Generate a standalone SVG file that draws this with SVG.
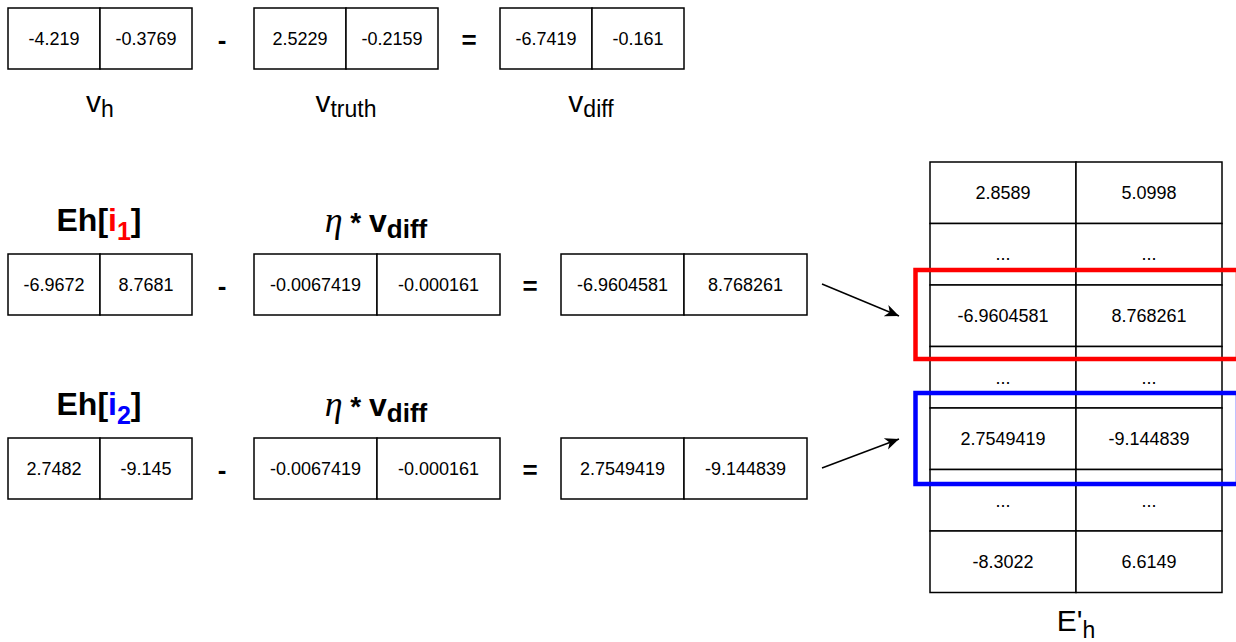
<svg xmlns="http://www.w3.org/2000/svg" width="1236" height="642" viewBox="0 0 1236 642">
  <style>
    .cell { fill: #ffffff; stroke: #000000; stroke-width: 1.5; }
    .num { font-family: "Liberation Sans", Arial, sans-serif; font-size: 18px; fill: #000000; text-anchor: middle; }
    .op { font-family: "Liberation Sans", Arial, sans-serif; font-size: 26px; font-weight: bold; fill: #000000; text-anchor: middle; }
    .lbl { font-family: "Liberation Sans", Arial, sans-serif; font-size: 30px; fill: #000000; text-anchor: middle; }
    .title { font-family: "Liberation Sans", Arial, sans-serif; font-size: 32px; font-weight: bold; fill: #000000; text-anchor: middle; }
    .eta { font-family: "Liberation Serif", "Times New Roman", serif; font-style: italic; font-weight: normal; font-size: 36px; }
    .sub { font-size: 23px; }
    .hl-red { fill: none; stroke: #ff0000; stroke-width: 4.5; }
    .hl-blue { fill: none; stroke: #0000ff; stroke-width: 4.5; }
    .conn { stroke: #000000; stroke-width: 1.5; fill: none; }
  </style>
  <defs>
    <marker id="arrow" markerUnits="userSpaceOnUse" markerWidth="16" markerHeight="14" refX="14" refY="7" orient="auto">
      <path d="M0,1 L14,7 L0,13 L4,7 Z" fill="#000000"/>
    </marker>
  </defs>

  <rect width="1236" height="642" fill="#ffffff"/>

  <!-- v_h -->
  <g id="v_h">
    <rect class="cell" x="8" y="8" width="92" height="61"/>
    <rect class="cell" x="100" y="8" width="92" height="61"/>
    <text class="num" x="54" y="45">-4.219</text>
    <text class="num" x="146" y="45">-0.3769</text>
    <text class="lbl" x="100" y="112">v<tspan class="sub" dy="5">h</tspan></text>
  </g>
  <text class="op" x="222" y="49">-</text>

  <!-- v_truth -->
  <g id="v_truth">
    <rect class="cell" x="254" y="8" width="92" height="61"/>
    <rect class="cell" x="346" y="8" width="92" height="61"/>
    <text class="num" x="300" y="45">2.5229</text>
    <text class="num" x="392" y="45">-0.2159</text>
    <text class="lbl" x="346" y="112">v<tspan class="sub" dy="5">truth</tspan></text>
  </g>
  <text class="op" x="469" y="49">=</text>

  <!-- v_diff -->
  <g id="v_diff">
    <rect class="cell" x="500" y="8" width="92" height="61"/>
    <rect class="cell" x="592" y="8" width="92" height="61"/>
    <text class="num" x="546" y="45">-6.7419</text>
    <text class="num" x="638" y="45">-0.161</text>
    <text class="lbl" x="591" y="112">v<tspan class="sub" dy="5">diff</tspan></text>
  </g>

  <!-- E_h[i1] update -->
  <g id="eh_i1">
    <text class="title" x="99" y="231">Eh[<tspan fill="#ff0000">i</tspan><tspan fill="#ff0000" font-size="25" dy="9">1</tspan><tspan dy="-9">]</tspan></text>
    <rect class="cell" x="8" y="254" width="92" height="61"/>
    <rect class="cell" x="100" y="254" width="92" height="61"/>
    <text class="num" x="54" y="291">-6.9672</text>
    <text class="num" x="146" y="291">8.7681</text>
  </g>
  <text class="op" x="222" y="295">-</text>
  <g id="step_i1">
    <text class="title" x="376" y="232"><tspan class="eta">η</tspan><tspan font-size="28"> * </tspan>v<tspan font-size="26" dy="6">diff</tspan></text>
    <rect class="cell" x="254" y="254" width="123" height="61"/>
    <rect class="cell" x="377" y="254" width="123" height="61"/>
    <text class="num" x="315.5" y="291">-0.0067419</text>
    <text class="num" x="438.5" y="291">-0.000161</text>
  </g>
  <text class="op" x="530" y="295">=</text>
  <g id="res_i1">
    <rect class="cell" x="561" y="254" width="123" height="61"/>
    <rect class="cell" x="684" y="254" width="123" height="61"/>
    <text class="num" x="622.5" y="291">-6.9604581</text>
    <text class="num" x="745.5" y="291">8.768261</text>
  </g>

  <!-- E_h[i2] update -->
  <g id="eh_i2">
    <text class="title" x="99" y="415">Eh[<tspan fill="#0000ff">i</tspan><tspan fill="#0000ff" font-size="25" dy="9">2</tspan><tspan dy="-9">]</tspan></text>
    <rect class="cell" x="8" y="438" width="92" height="61"/>
    <rect class="cell" x="100" y="438" width="92" height="61"/>
    <text class="num" x="54" y="475">2.7482</text>
    <text class="num" x="146" y="475">-9.145</text>
  </g>
  <text class="op" x="222" y="479">-</text>
  <g id="step_i2">
    <text class="title" x="376" y="416"><tspan class="eta">η</tspan><tspan font-size="28"> * </tspan>v<tspan font-size="26" dy="6">diff</tspan></text>
    <rect class="cell" x="254" y="438" width="123" height="61"/>
    <rect class="cell" x="377" y="438" width="123" height="61"/>
    <text class="num" x="315.5" y="475">-0.0067419</text>
    <text class="num" x="438.5" y="475">-0.000161</text>
  </g>
  <text class="op" x="530" y="479">=</text>
  <g id="res_i2">
    <rect class="cell" x="561" y="438" width="123" height="61"/>
    <rect class="cell" x="684" y="438" width="123" height="61"/>
    <text class="num" x="622.5" y="475">2.7549419</text>
    <text class="num" x="745.5" y="475">-9.144839</text>
  </g>

  <!-- updated embedding matrix E'_h -->
  <g id="eh_matrix">
    <rect class="cell" x="930" y="162" width="146" height="61.5"/>
    <rect class="cell" x="1076" y="162" width="146" height="61.5"/>
    <rect class="cell" x="930" y="223.5" width="146" height="61.5"/>
    <rect class="cell" x="1076" y="223.5" width="146" height="61.5"/>
    <rect class="cell" x="930" y="285" width="146" height="61.5"/>
    <rect class="cell" x="1076" y="285" width="146" height="61.5"/>
    <rect class="cell" x="930" y="346.5" width="146" height="61.5"/>
    <rect class="cell" x="1076" y="346.5" width="146" height="61.5"/>
    <rect class="cell" x="930" y="408" width="146" height="61.5"/>
    <rect class="cell" x="1076" y="408" width="146" height="61.5"/>
    <rect class="cell" x="930" y="469.5" width="146" height="61.5"/>
    <rect class="cell" x="1076" y="469.5" width="146" height="61.5"/>
    <rect class="cell" x="930" y="531" width="146" height="61.5"/>
    <rect class="cell" x="1076" y="531" width="146" height="61.5"/>
    <text class="num" x="1003" y="199">2.8589</text>
    <text class="num" x="1149" y="199">5.0998</text>
    <text class="num" x="1003" y="260">...</text>
    <text class="num" x="1149" y="260">...</text>
    <text class="num" x="1003" y="322">-6.9604581</text>
    <text class="num" x="1149" y="322">8.768261</text>
    <text class="num" x="1003" y="384">...</text>
    <text class="num" x="1149" y="384">...</text>
    <text class="num" x="1003" y="445">2.7549419</text>
    <text class="num" x="1149" y="445">-9.144839</text>
    <text class="num" x="1003" y="507">...</text>
    <text class="num" x="1149" y="507">...</text>
    <text class="num" x="1003" y="568">-8.3022</text>
    <text class="num" x="1149" y="568">6.6149</text>
    <text class="lbl" x="1076" y="631">E'<tspan class="sub" dy="7">h</tspan></text>
  </g>

  <!-- highlighted rows -->
  <g id="highlight_i1">
    <rect class="hl-red" x="915.5" y="270" width="322.5" height="89"/>
  </g>
  <g id="highlight_i2">
    <rect class="hl-blue" x="915.5" y="393" width="322.5" height="91"/>
  </g>

  <!-- connectors -->
  <g id="connectors">
    <line class="conn" x1="822" y1="284" x2="899" y2="316" marker-end="url(#arrow)"/>
    <line class="conn" x1="822" y1="468" x2="899" y2="439" marker-end="url(#arrow)"/>
  </g>
</svg>
